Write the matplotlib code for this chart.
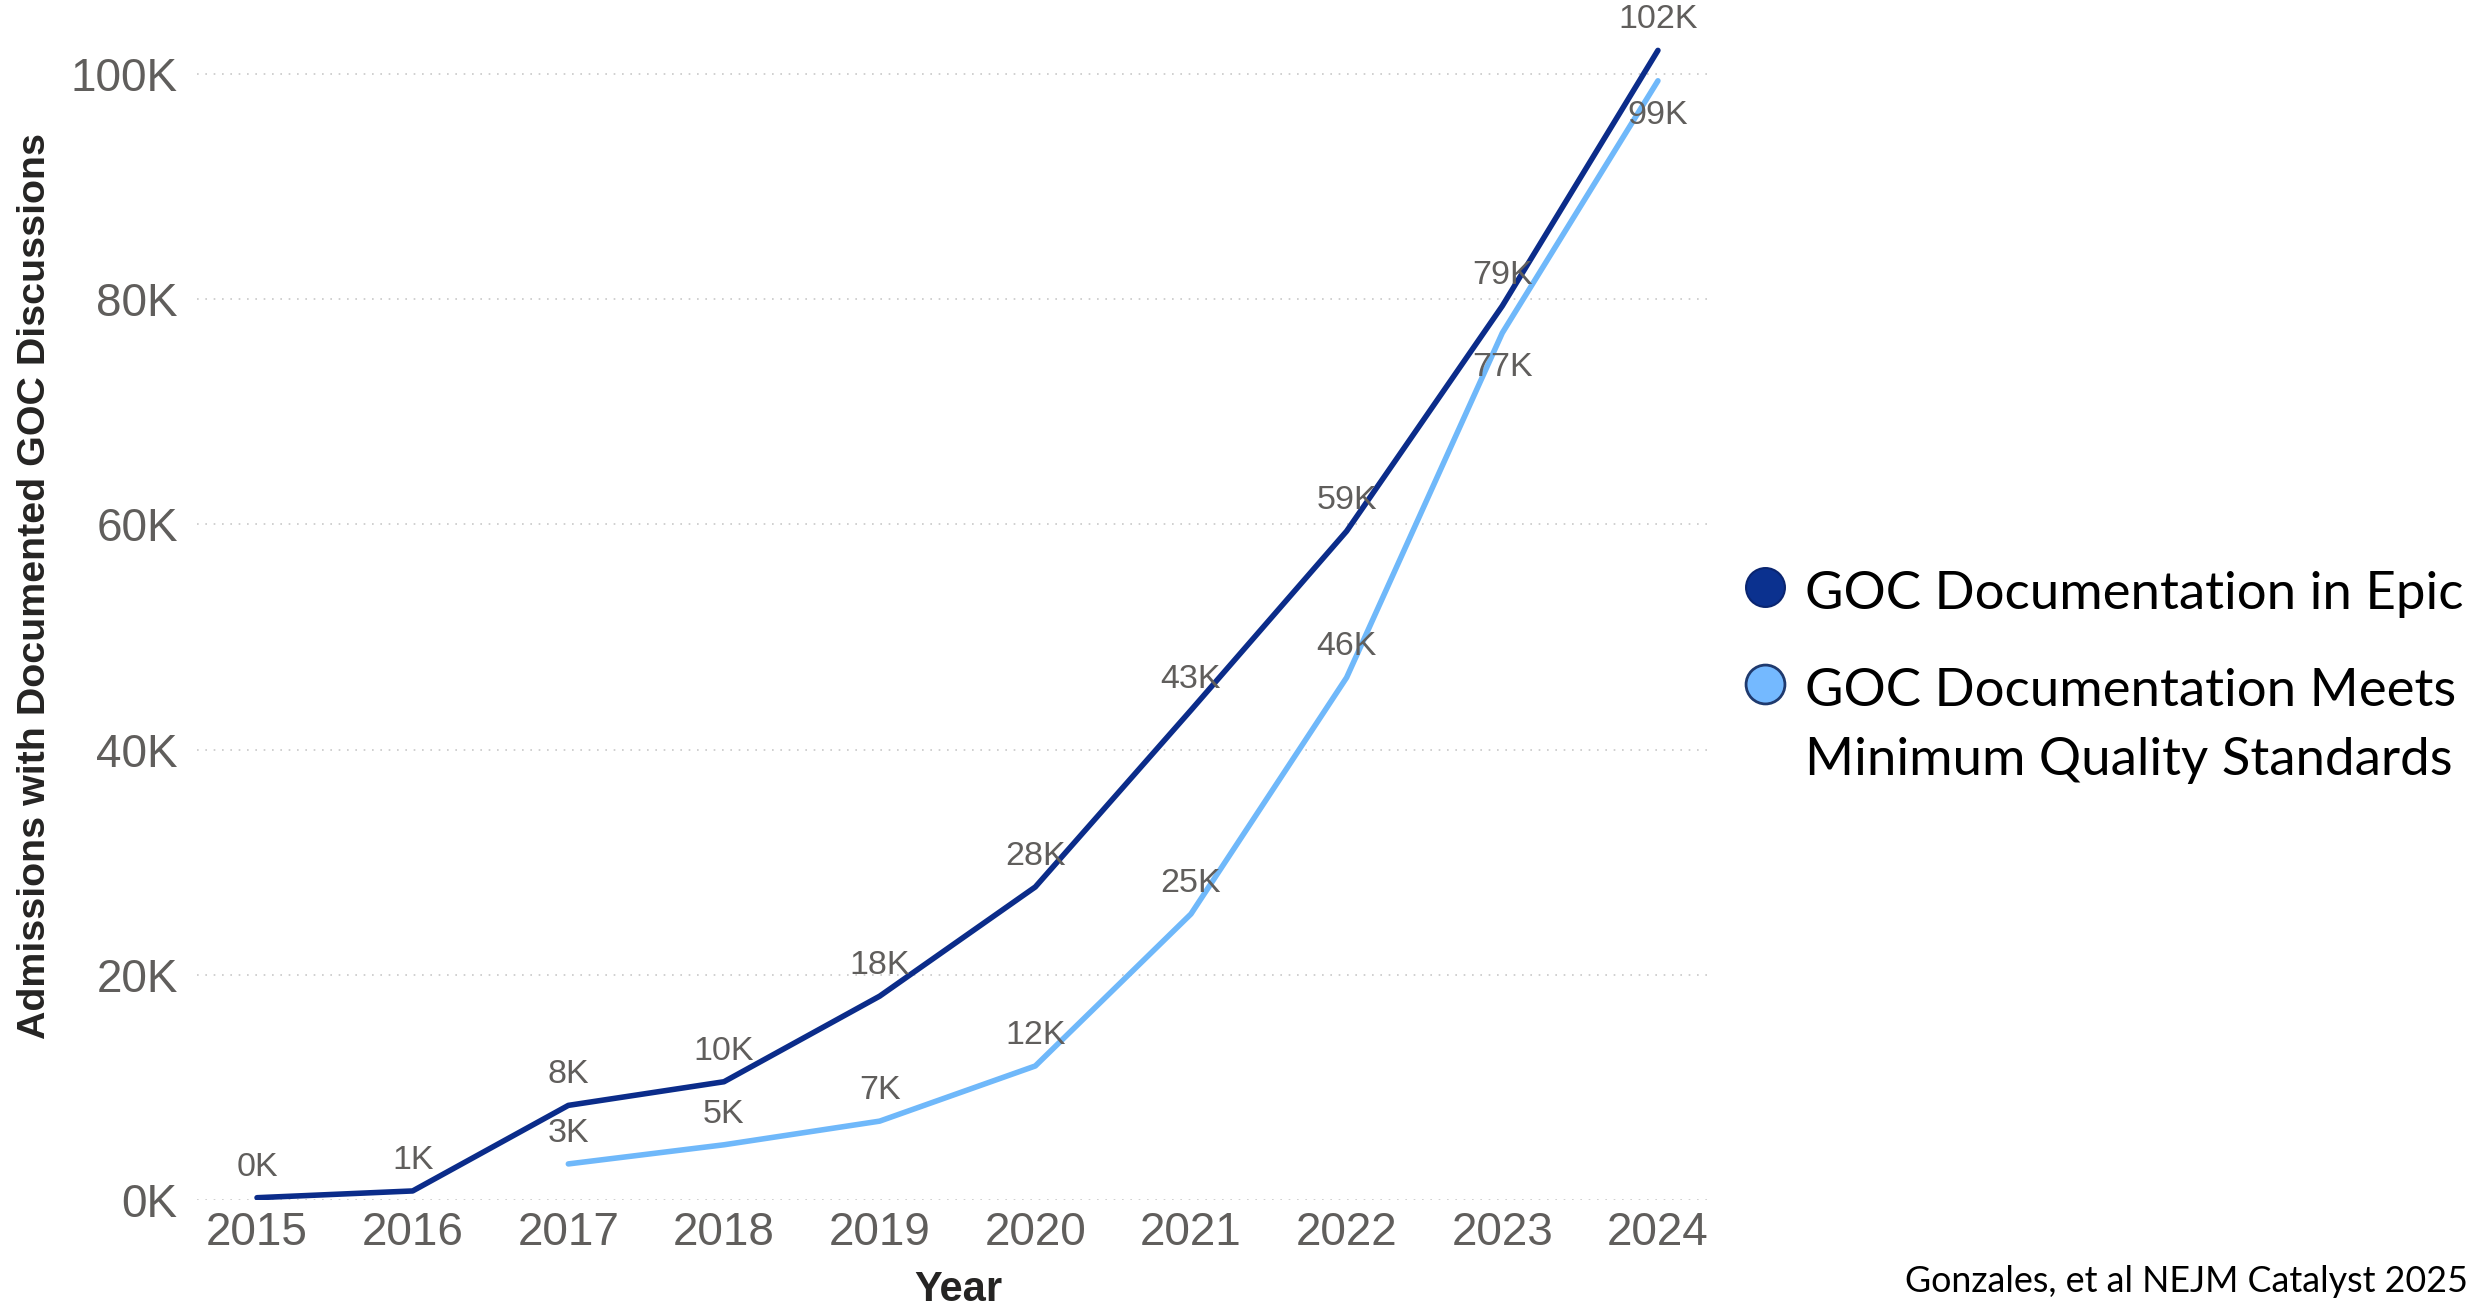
import matplotlib
matplotlib.use("Agg")
import matplotlib.pyplot as plt
from matplotlib.lines import Line2D
import numpy as np

# values (K = thousands)
years = [2015, 2016, 2017, 2018, 2019, 2020, 2021, 2022, 2023, 2024]
epic = [200, 800, 8400, 10500, 18100, 27800, 43500, 59400, 79400, 102100]
years_q = [2017, 2018, 2019, 2020, 2021, 2022, 2023, 2024]
quality = [3200, 4900, 7000, 11900, 25400, 46400, 77000, 99400]
epic_labels = ["0K", "1K", "8K", "10K", "18K", "28K", "43K", "59K", "79K", "102K"]
quality_labels = ["3K", "5K", "7K", "12K", "25K", "46K", "77K", "99K"]
yticks = [0, 20000, 40000, 60000, 80000, 100000]
ytick_labels = ["0K", "20K", "40K", "60K", "80K", "100K"]

DARK = "#0B2C8A"
LIGHT = "#6FB8FA"
GREY = "#605E5C"
NUM_FONT = ["Liberation Sans", "DejaVu Sans"]
TXT_FONT = ["Lato", "DejaVu Sans"]

fig = plt.figure(figsize=(24.76, 13.12), dpi=100)
ax = fig.add_axes([0.0796, 0.0854, 0.611, 0.8925])

ax.plot(years, epic, color=DARK, lw=4, solid_capstyle="round", zorder=3)
ax.plot(years_q, quality, color=LIGHT, lw=4, solid_capstyle="round", zorder=2)

for x, y, t in zip(years, epic, epic_labels):
    ax.annotate(t, (x, y), xytext=(0, 22), textcoords="offset points",
                ha="center", va="center", fontsize=24.5, color=GREY,
                family=NUM_FONT, annotation_clip=False)
for x, y, t in zip(years_q, quality, quality_labels):
    dy = -25 if x >= 2023 else 22
    ax.annotate(t, (x, y), xytext=(0, dy), textcoords="offset points",
                ha="center", va="center", fontsize=24.5, color=GREY,
                family=NUM_FONT, annotation_clip=False)

ax.set_xlim(2014.615, 2024.334)
ax.set_ylim(0, 104000)
ax.set_xticks(years)
ax.set_xticklabels([str(y) for y in years], family=NUM_FONT, fontsize=33,
                   color=GREY)
ax.set_yticks(yticks)
ax.set_yticklabels(ytick_labels, family=NUM_FONT, fontsize=33, color=GREY)
ax.tick_params(axis="both", length=0)
ax.tick_params(axis="y", pad=14)
ax.tick_params(axis="x", pad=8)
ax.grid(axis="y", linestyle=(0, (1, 4)), color="#c8c8c8", lw=1.2)
ax.set_axisbelow(True)
for s in ax.spines.values():
    s.set_visible(False)

fig.text(0.0141, 0.553, "Admissions with Documented GOC Discussions",
         rotation=90, ha="center", va="center", fontsize=28.4,
         fontweight="bold", color="#252423", family=NUM_FONT)
fig.text(0.387, 0.0168, "Year", ha="center", va="center", fontsize=30,
         fontweight="bold", color="#252423", family=NUM_FONT)

# legend drawn by hand so the marker sits on the first text line
fig.add_artist(Line2D([0.7129], [1 - 587 / 1312], marker="o", ls="",
                      markersize=28, markerfacecolor="#0B318F",
                      markeredgecolor="#0A2570", markeredgewidth=1.5,
                      transform=fig.transFigure))
fig.add_artist(Line2D([0.7129], [1 - 684 / 1312], marker="o", ls="",
                      markersize=28, markerfacecolor="#74B9FF",
                      markeredgecolor="#1F3A6E", markeredgewidth=2,
                      transform=fig.transFigure))
fig.text(0.729, 1 - 594 / 1312, "GOC Documentation in Epic", ha="left",
         va="center", fontsize=38, color="black", family=TXT_FONT)
fig.text(0.729, 1 - 692 / 1312, "GOC Documentation Meets", ha="left",
         va="center", fontsize=38, color="black", family=TXT_FONT)
fig.text(0.729, 1 - 760 / 1312, "Minimum Quality Standards", ha="left",
         va="center", fontsize=38, color="black", family=TXT_FONT)

fig.text(0.9968, 1 - 1282 / 1312, "Gonzales, et al NEJM Catalyst 2025",
         ha="right", va="center", fontsize=25.8, color="black", family=TXT_FONT)

fig.savefig("out.png", dpi=100)
